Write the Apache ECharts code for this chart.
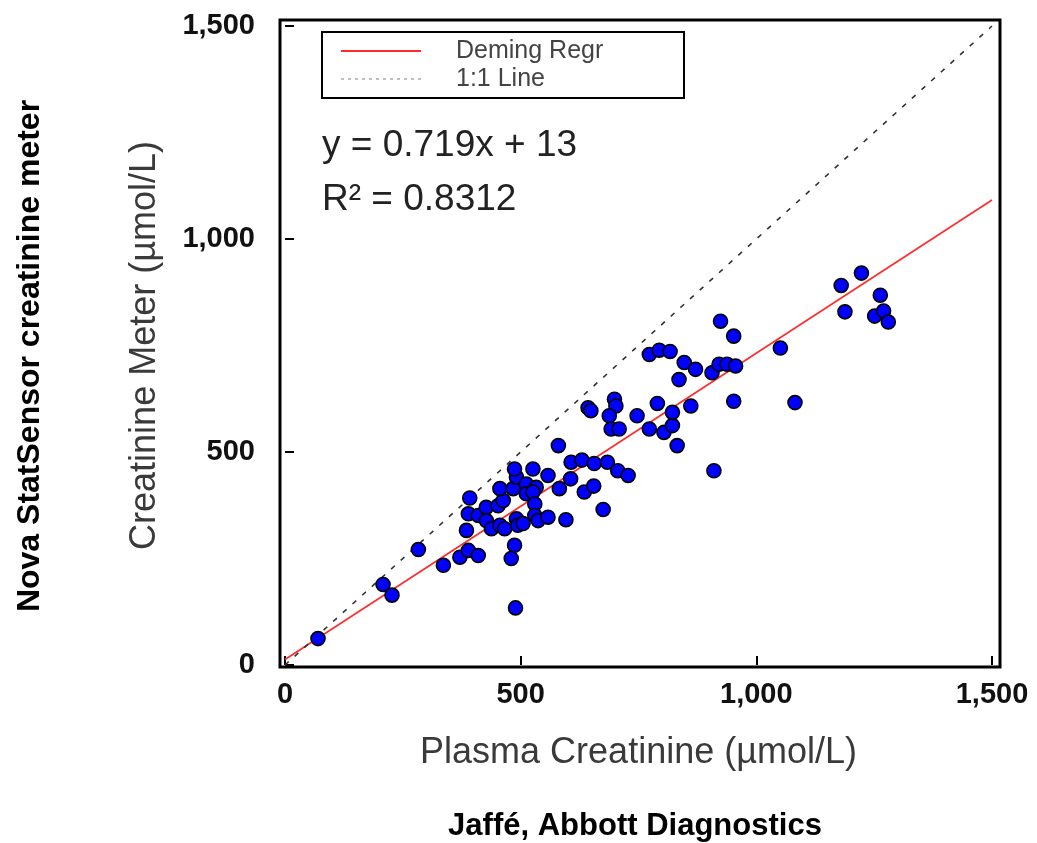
<!DOCTYPE html>
<html>
<head>
<meta charset="utf-8">
<title>Creatinine meter vs plasma creatinine</title>
<script src="https://cdn.jsdelivr.net/npm/echarts@6/dist/echarts.min.js"></script>
<style>
  html, body { margin: 0; padding: 0; background: #ffffff; }
  #chart { width: 1037px; height: 843px; }
</style>
</head>
<body>
<div id="chart"></div>
<script>
// Paired measurements: plasma creatinine (Jaffé, µmol/L) vs meter reading (µmol/L)
const plasmaCreatinine = [
  70, 208, 227, 283, 336, 371, 389, 410, 385, 389, 392, 410, 427, 427, 438, 456, 466, 452, 463, 456,
  484, 491, 487, 526, 512, 533, 512, 526, 530, 530, 537, 491, 494, 505, 558, 596, 558, 582, 606, 580,
  487, 480, 489,
  607, 630, 656, 684, 706, 728, 635, 655, 675, 643, 649, 699, 702, 688, 692, 709, 747, 773, 804, 822,
  822, 790, 861, 832, 910, 836, 773, 794, 817, 847, 871, 906, 921, 938, 956, 952, 924, 952, 1082, 1051,
  1180, 1223, 1263, 1188, 1251, 1270, 1280
];
const meterCreatinine = [
  62, 189, 164, 271, 234, 253, 269, 257, 316, 355, 392, 351, 370, 339, 320, 328, 320, 374, 386, 414,
  414, 441, 460, 460, 425, 417, 402, 406, 378, 351, 339, 343, 328, 332, 347, 341, 445, 414, 437, 515,
  281, 250, 134,
  476, 481, 473, 476, 456, 445, 406, 420, 365, 604, 597, 624, 608, 585, 554, 554, 585, 554, 546, 562,
  593, 614, 608, 515, 456, 670, 729, 739, 736, 710, 694, 686, 706, 706, 702, 772, 807, 619, 616, 744,
  891, 920, 868, 829, 819, 831, 805
];

// Deming regression fit and identity line
const demingSlope = 0.719;
const demingIntercept = 13;
const rSquared = 0.8312;
const axisMin = 0;
const axisMax = 1500;
const tickStep = 500;

const seriesNames = ['Deming Regr', '1:1 Line'];
const xTitle = 'Plasma Creatinine (\u00b5mol/L)';
const yTitle = 'Creatinine Meter (\u00b5mol/L)';
const outerYTitle = 'Nova StatSensor creatinine meter';
const outerXTitle = 'Jaff\u00e9, Abbott Diagnostics';

const points = plasmaCreatinine.map((x, i) => [x, meterCreatinine[i]]);
const demingLine = [axisMin, axisMax].map(x => [x, demingSlope * x + demingIntercept]);
const identityLine = [axisMin, axisMax].map(x => [x, x]);

const fmt = v => v.toLocaleString('en-US');
const FONT = 'Liberation Sans, Arial, Helvetica, sans-serif';

const chart = echarts.init(document.getElementById('chart'), null, { renderer: 'canvas' });

const axisCommon = {
  type: 'value',
  min: axisMin,
  max: axisMax,
  interval: tickStep,
  splitLine: { show: false },
  axisLine: { show: false },
  axisTick: { show: true, inside: true, length: 9, lineStyle: { color: '#000', width: 2 } },
  axisLabel: {
    fontFamily: FONT, fontSize: 29, fontWeight: 'bold', color: '#111',
    formatter: fmt
  },
  nameLocation: 'middle',
  nameTextStyle: { fontFamily: FONT, fontSize: 36, color: '#3a3a3a' }
};

chart.setOption({
  backgroundColor: '#ffffff',
  animation: false,
  grid: { left: 285, right: 45, top: 26, bottom: 178, containLabel: false },
  xAxis: Object.assign({}, axisCommon, {
    name: xTitle,
    nameGap: 70,
    axisLabel: Object.assign({}, axisCommon.axisLabel, { margin: 15 })
  }),
  yAxis: Object.assign({}, axisCommon, {
    name: yTitle,
    nameGap: 122,
    nameRotate: 90,
    axisLabel: Object.assign({}, axisCommon.axisLabel, { margin: 30 })
  }),
  legend: {
    orient: 'vertical',
    left: 322,
    top: 32,
    padding: [5, 18, 5, 18],
    itemGap: 0,
    itemWidth: 80,
    itemHeight: 14,
    borderColor: '#000',
    borderWidth: 2,
    selectedMode: false,
    itemStyle: { opacity: 0 },
    textStyle: {
      fontFamily: FONT, fontSize: 25, color: '#444', lineHeight: 28,
      padding: [0, 0, 0, 30], width: 210
    },
    data: [
      { name: seriesNames[0], itemStyle: { opacity: 0 } },
      { name: seriesNames[1], itemStyle: { opacity: 0 }, lineStyle: { color: '#aaaaaa', type: [3, 4], width: 1.5 } }
    ]
  },
  series: [
    {
      name: seriesNames[0],
      type: 'line',
      data: demingLine,
      symbol: 'none',
      lineStyle: { color: '#ff2a2a', width: 1.6 },
      z: 2
    },
    {
      name: seriesNames[1],
      type: 'line',
      data: identityLine,
      symbol: 'none',
      lineStyle: { color: '#333', width: 1.6, type: [5, 8] },
      z: 2
    },
    {
      name: 'Samples',
      type: 'scatter',
      data: points,
      symbol: 'circle',
      symbolSize: 14,
      itemStyle: { color: '#0000ff', borderColor: '#000', borderWidth: 1.6, opacity: 1 },
      z: 3
    }
  ],
  graphic: [
    {
      type: 'rect',
      shape: { x: 280, y: 20, width: 720, height: 647 },
      style: { fill: 'none', stroke: '#000', lineWidth: 3 },
      silent: true
    },
    {
      type: 'text',
      x: 322, y: 146,
      style: {
        text: 'y = ' + demingSlope + 'x + ' + demingIntercept,
        font: '37px ' + FONT, fill: '#222', textAlign: 'left', textVerticalAlign: 'middle'
      }
    },
    {
      type: 'text',
      x: 322, y: 200,
      style: {
        text: 'R\u00b2 = ' + rSquared,
        font: '37px ' + FONT, fill: '#222', textAlign: 'left', textVerticalAlign: 'middle'
      }
    },
    {
      type: 'text',
      x: 30, y: 356,
      rotation: Math.PI / 2,
      style: {
        text: outerYTitle,
        font: 'bold 32px ' + FONT, fill: '#000', textAlign: 'center', textVerticalAlign: 'middle'
      }
    },
    {
      type: 'text',
      x: 635, y: 826,
      style: {
        text: outerXTitle,
        font: 'bold 31px ' + FONT, fill: '#000', textAlign: 'center', textVerticalAlign: 'middle'
      }
    }
  ]
});
</script>
</body>
</html>
